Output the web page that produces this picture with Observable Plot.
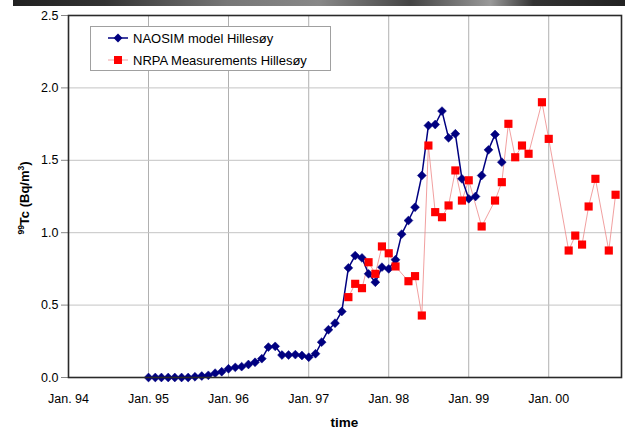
<!DOCTYPE html>
<html>
<head>
<meta charset="utf-8">
<script src="https://cdn.jsdelivr.net/npm/d3@7"></script>
<script src="https://cdn.jsdelivr.net/npm/@observablehq/plot@0.6"></script>
<style>
  html, body { margin: 0; padding: 0; background: #fff; }
  #wrap { position: relative; width: 625px; height: 430px; overflow: hidden; }
  #topbar { position: absolute; left: 13px; top: 0; width: 612px; height: 6px;
    background: linear-gradient(to right, #222 0%, #333 15%, #777 35%, #888 50%, #444 65%, #999 78%, #333 85%, #222 100%); }
</style>
</head>
<body>
<div id="wrap"><div id="topbar"></div></div>
<script>
// ---- data ----
const modelStart = "1995-01";
const modelValues = [
  0, 0, 0, 0, 0, 0, 0, 0.005, 0.01, 0.015, 0.03, 0.04,
  0.06, 0.07, 0.075, 0.09, 0.105, 0.13, 0.21, 0.215, 0.155, 0.155, 0.158, 0.152,
  0.14, 0.164, 0.244, 0.33, 0.375, 0.456, 0.757, 0.842, 0.826, 0.716, 0.658, 0.762,
  0.75, 0.813, 0.99, 1.084, 1.176, 1.395, 1.74, 1.747, 1.84, 1.655, 1.683, 1.372,
  1.234, 1.25, 1.395, 1.572, 1.678, 1.487
];
const measDates = [
  "1997-07", "1997-08", "1997-09", "1997-10", "1997-11", "1997-12",
  "1998-01", "1998-02", "1998-04", "1998-05", "1998-06", "1998-07",
  "1998-08", "1998-09", "1998-10", "1998-11", "1998-12",
  "1999-01", "1999-03", "1999-05", "1999-06", "1999-07", "1999-08",
  "1999-09", "1999-10", "1999-12",
  "2000-01", "2000-04", "2000-05", "2000-06", "2000-07", "2000-08",
  "2000-10", "2000-11"
];
const measValues = [
  0.555, 0.647, 0.617, 0.796, 0.716, 0.905,
  0.858, 0.767, 0.665, 0.70, 0.428, 1.602,
  1.142, 1.107, 1.188, 1.43, 1.222,
  1.362, 1.043, 1.222, 1.349, 1.752, 1.521,
  1.602, 1.545, 1.901,
  1.648, 0.877, 0.98, 0.918, 1.181, 1.372,
  0.877, 1.262
];
const xTickYears = ["1994", "1995", "1996", "1997", "1998", "1999", "2000"];
const xTickLabels = ["Jan. 94", "Jan. 95", "Jan. 96", "Jan. 97", "Jan. 98", "Jan. 99", "Jan. 00"];
const yTicks = [0, 0.5, 1.0, 1.5, 2.0, 2.5];
const seriesNames = ["NAOSIM model Hillesøy", "NRPA Measurements Hillesøy"];

// ---- build tables ----
const parseMonth = d3.utcParse("%Y-%m");
const m0 = parseMonth(modelStart);
const model = modelValues.map((v, i) => ({ date: d3.utcMonth.offset(m0, i), value: v }));
const meas = measDates.map((d, i) => ({ date: parseMonth(d), value: measValues[i] }));
const xTicks = xTickYears.map(y => d3.utcParse("%Y")(y));
const labelOf = new Map(xTicks.map((t, i) => [+t, xTickLabels[i]]));

const navy = "#000080";
const red = "#ff0000";
const font = "'Liberation Sans', Arial, sans-serif";

const chart = Plot.plot({
  width: 625,
  height: 430,
  marginLeft: 68,
  marginRight: 4,
  marginTop: 15,
  marginBottom: 53,
  style: { fontFamily: font, fontSize: "12.5px", color: "#000", background: "transparent" },
  x: { type: "utc", domain: [new Date(Date.UTC(1994, 0, 1)), new Date(Date.UTC(2000, 10, 28))] },
  y: { domain: [0, 2.5] },
  marks: [
    Plot.gridX(xTicks, { stroke: "#b0b0b0", strokeOpacity: 1, strokeWidth: 1 }),
    Plot.gridY(yTicks, { stroke: "#c4c4c4", strokeOpacity: 1, strokeWidth: 1 }),
    Plot.axisX(xTicks, { tickSize: 0, tickPadding: 17, tickFormat: d => labelOf.get(+d), label: null, fontSize: 12.5 }),
    Plot.axisY(yTicks, { tickSize: 7, tickPadding: 3, tickFormat: d3.format(".1f"), label: null, stroke: "#888", fontSize: 12.5 }),
    Plot.line(meas, { x: "date", y: "value", stroke: "#ee8888", strokeWidth: 0.8 }),
    Plot.line(model, { x: "date", y: "value", stroke: navy, strokeWidth: 1.5 }),
    Plot.dot(model, { x: "date", y: "value", symbol: "diamond2", r: 4, fill: navy, stroke: navy, strokeWidth: 0.5 }),
    Plot.dot(meas, { x: "date", y: "value", symbol: "square", r: 4.6, fill: red, stroke: "none" }),
    Plot.frame({ stroke: "#2a2a2a", strokeWidth: 1.6 })
  ]
});
document.getElementById("wrap").appendChild(chart);

const svg = d3.select(chart);

// x axis title
svg.append("text")
  .attr("x", 344.5).attr("y", 426.5)
  .attr("text-anchor", "middle")
  .style("font", `bold 13.5px ${font}`)
  .text("time");

// y axis title with superscripts
const yt = svg.append("text")
  .attr("transform", "translate(29,198) rotate(-90)")
  .attr("text-anchor", "middle")
  .style("font", `bold 13px ${font}`);
yt.append("tspan").attr("font-size", "8.5px").attr("dy", "-5").text("99");
yt.append("tspan").attr("dy", "5").text("Tc (Bq/m");
yt.append("tspan").attr("font-size", "8.5px").attr("dy", "-5").text("3");
yt.append("tspan").attr("dy", "5").text(")");

// legend
const lg = svg.append("g").attr("text-anchor", "start");
lg.append("rect").attr("x", 90.5).attr("y", 26.5).attr("width", 240).attr("height", 44)
  .attr("fill", "#fff").attr("stroke", "#a0a0a0").attr("stroke-width", 1);
lg.append("line").attr("x1", 108).attr("x2", 128).attr("y1", 38).attr("y2", 38)
  .attr("stroke", navy).attr("stroke-width", 1.5);
lg.append("path").attr("d", d3.symbol(d3.symbolDiamond2, Math.PI * 16)()).attr("transform", "translate(118,38)")
  .attr("fill", navy);
lg.append("text").attr("x", 133).attr("y", 42.5).attr("text-anchor", "start")
  .style("font", `13px ${font}`).text(seriesNames[0]);
lg.append("line").attr("x1", 108).attr("x2", 128).attr("y1", 60).attr("y2", 60)
  .attr("stroke", "#ee8888").attr("stroke-width", 0.8);
lg.append("rect").attr("x", 114).attr("y", 56).attr("width", 8).attr("height", 8).attr("fill", red);
lg.append("text").attr("x", 133).attr("y", 64.5).attr("text-anchor", "start")
  .style("font", `13px ${font}`).text(seriesNames[1]);
</script>
</body>
</html>
